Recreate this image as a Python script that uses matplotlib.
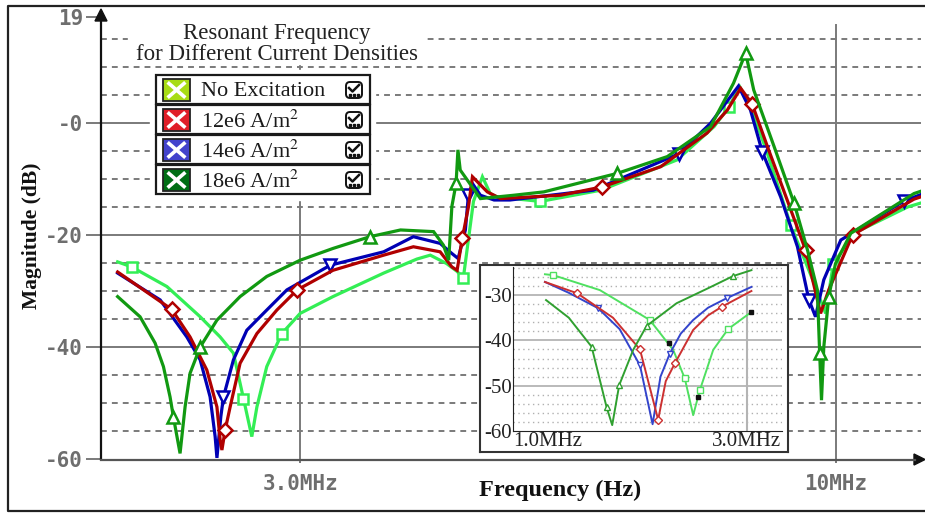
import numpy as np
import matplotlib.pyplot as plt
from matplotlib.patches import Rectangle, FancyBboxPatch, Polygon
from matplotlib.ticker import NullLocator

plt.rcParams['mathtext.fontset'] = 'stix'

# ---- main traces: frequency (MHz) / magnitude (dB) ----
f_none = [1.99, 2.054, 2.223, 2.396, 2.506, 2.582, 2.641, 2.691, 2.722, 2.783, 2.879, 3.00,
          3.23, 3.62, 3.90, 4.02, 4.17, 4.27, 4.33, 4.43, 4.52, 4.60, 4.67, 5.15, 5.90,
          7.00, 7.61, 7.87, 8.06, 8.30, 8.60, 9.04, 9.50, 9.78, 9.95, 10.42, 11.76, 12.11]
db_none = [-24.8, -25.7, -29.2, -34.6, -38.2, -41.1, -49.2, -56.0, -50.7, -43.5, -37.6, -34.0,
           -31.0, -26.8, -24.3, -23.6, -25.1, -26.5, -27.7, -14.0, -9.6, -12.6, -13.2, -14.0, -12.0,
           -6.6, -0.65, 2.9, 6.5, 2.0, -6.0, -18.2, -28.0, -34.0, -25.2, -19.7, -15.0, -14.3]
mk_none = [1, 6, 10, 18, 23, 27, 31, 34]

f_12 = [1.99, 2.248, 2.342, 2.432, 2.488, 2.506, 2.516, 2.534, 2.563, 2.621, 2.722, 2.847, 2.98,
        3.23, 3.62, 3.87, 4.11, 4.22, 4.27, 4.32, 4.38, 4.42, 4.57, 4.71, 5.39, 5.92,
        6.75, 7.49, 7.84, 8.08, 8.29, 8.58, 8.97, 9.35, 9.67, 9.85, 10.39, 11.93, 12.11]
db_12 = [-26.6, -33.3, -38.2, -44.1, -50.7, -56.6, -58.4, -54.9, -50.7, -42.9, -37.6, -33.4, -29.8,
         -26.3, -23.6, -22.1, -23.0, -25.7, -26.3, -20.6, -15.0, -9.6, -12.3, -13.5, -12.9, -11.4,
         -7.8, -1.8, 2.3, 6.2, 3.4, -4.2, -13.75, -22.7, -34.0, -29.8, -20.0, -13.6, -13.2]
mk_12 = [1, 7, 12, 19, 25, 30, 33, 36]

f_14 = [1.99, 2.19, 2.325, 2.396, 2.45, 2.478, 2.488, 2.51, 2.525, 2.582, 2.661, 2.783, 2.912,
        3.21, 3.62, 3.87, 4.11, 4.22, 4.28, 4.35, 4.38, 4.42, 4.50, 4.64, 4.81, 5.80,
        7.03, 7.55, 8.04, 8.26, 8.48, 8.84, 9.18, 9.42, 9.56, 9.74, 10.12, 11.67, 12.11]
db_14 = [-26.8, -31.6, -38.2, -42.3, -48.9, -56.0, -59.8, -52.4, -48.9, -42.3, -37.0, -33.4, -29.8,
         -25.4, -23.0, -20.3, -21.5, -23.3, -24.2, -19.1, -12.9, -10.8, -12.9, -13.75, -13.75, -12.0,
         -5.5, -0.05, 6.6, 2.3, -5.1, -13.2, -22.1, -31.6, -34.6, -28.0, -20.9, -13.9, -12.8]
mk_14 = [8, 13, 20, 26, 30, 33, 37]

f_18 = [1.99, 2.093, 2.165, 2.206, 2.239, 2.256, 2.29, 2.316, 2.342, 2.396, 2.488, 2.621, 2.783,
        3.00, 3.23, 3.51, 3.76, 4.05, 4.14, 4.19, 4.22, 4.26, 4.278, 4.30, 4.50, 4.85, 5.19,
        6.12, 6.85, 7.55, 7.95, 8.17, 8.32, 8.71, 9.11, 9.39, 9.60, 9.65, 9.69, 9.74, 9.85,
        10.00, 10.35, 11.93, 12.11]
db_18 = [-31.0, -34.6, -39.3, -43.5, -48.9, -52.5, -59.0, -50.7, -44.7, -40.0, -35.2, -31.0, -27.4,
         -24.5, -22.4, -20.3, -19.1, -19.4, -21.8, -24.5, -14.9, -10.8, -4.8, -8.4, -13.5, -12.9, -12.3,
         -9.0, -6.0, -0.65, 7.1, 12.5, 5.9, -4.2, -14.3, -22.7, -29.8, -41.1, -49.5, -40.0, -31.0,
         -25.1, -19.7, -12.6, -12.2]
mk_18 = [5, 9, 15, 21, 27, 31, 34, 37, 40]

# ---- zoomed traces (MHz / dB) ----
fi_none = [1.162, 1.208, 1.504, 1.902, 2.123, 2.242, 2.332, 2.406, 2.562, 2.748, 3.042]
dbi_none = [-25.4, -25.6, -28.9, -35.5, -42.1, -48.4, -56.5, -51.0, -42.1, -37.5, -34.0]
mki_none = [1, 3, 5, 7, 9]

fi_18 = [1.168, 1.30, 1.447, 1.552, 1.594, 1.647, 1.759, 1.874, 2.157, 2.50, 2.813, 3.066]
dbi_18 = [-31.1, -35.0, -41.4, -54.7, -58.7, -49.9, -42.1, -36.8, -31.8, -28.5, -25.8, -24.5]
mki_18 = [2, 3, 5, 7, 10]

fi_14 = [1.162, 1.30, 1.492, 1.65, 1.816, 1.927, 2.00, 2.090, 2.20, 2.332, 2.50, 2.728, 3.066]
dbi_14 = [-27.1, -29.5, -32.9, -37.5, -45.5, -58.5, -48.0, -42.9, -38.5, -35.5, -32.8, -30.7, -28.2]
mki_14 = [2, 4, 7, 11]

fi_12 = [1.162, 1.352, 1.60, 1.816, 1.978, 2.05, 2.139, 2.332, 2.50, 2.665, 3.066]
dbi_12 = [-27.1, -29.6, -35.0, -42.0, -57.5, -49.0, -45.1, -37.7, -34.5, -32.6, -29.1]
mki_12 = [1, 3, 4, 6, 9]

f_cursor = [2.08, 2.384, 3.056]
db_cursor = [-40.6, -52.5, -33.8]

legend_names = ['No Excitation', r'12e6 A/m$^2$', r'14e6 A/m$^2$', r'18e6 A/m$^2$']
legend_fill = ['#A8DC14', '#E01E28', '#4242CC', '#006E14']

W, H = 925, 514
fig = plt.figure(figsize=(W / 100, H / 100), dpi=100)


def box(x0, y0, x1, y1):
    return [x0 / W, 1 - y1 / H, (x1 - x0) / W, (y1 - y0) / H]


GRID = '#7a7a7a'
TICKFONT = dict(family='DejaVu Sans Mono', weight='bold', color='#6e6e6e', size=15)

# ---------------- main plot ----------------
ax = fig.add_axes(box(101, 16.6, 921, 459))
ax.set_xscale('log')
ax.set_xlim(1.917, 12.12)
ax.set_ylim(-60, 19)
for s in ax.spines.values():
    s.set_visible(False)

for v in [0, -20, -40]:
    ax.axhline(v, color=GRID, lw=1.4, zorder=1)
for v in [15, 10, 5, -5, -10, -15, -25, -30, -35, -45, -50, -55]:
    ax.axhline(v, color=GRID, lw=1.4, ls=(0, (3, 2.6)), zorder=1)
for v in [3, 10]:
    ax.plot([v, v], [-60.6, 17.5], color=GRID, lw=1.4, zorder=1, clip_on=False)

traces = [
    (f_none, db_none, mk_none, '#33EE55', 's', 7.5),
    (f_14, db_14, mk_14, '#0000B4', 'v', 8.5),
    (f_12, db_12, mk_12, '#B00000', 'D', 7),
    (f_18, db_18, mk_18, '#119911', '^', 8.5),
]
for f, db, mk, c, m, ms in traces:
    ax.plot(f, db, color=c, lw=2.3, zorder=3, solid_joinstyle='miter',
            marker=m, markevery=mk, ms=ms, mfc='white', mec=c, mew=1.8)

ax.set_yticks([19, 0, -20, -40, -60])
ax.set_yticklabels(['19', '-0', '-20', '-40', '-60'], **TICKFONT)
ax.set_xticks([3, 10])
ax.set_xticklabels(['3.0MHz', '10MHz'], **TICKFONT)
ax.xaxis.set_minor_locator(NullLocator())
ax.tick_params(axis='y', length=11, width=1.4, color=GRID, pad=2)
ax.tick_params(axis='x', length=3, width=1.4, color=GRID, pad=8)

ax.set_xlabel('Frequency (Hz)', family='Liberation Serif', weight='bold', size=17.5,
              color='#111111')
ax.xaxis.set_label_coords((560 - 101) / 820, -0.047)
ax.set_ylabel('Magnitude (dB)', family='Liberation Serif', weight='bold', size=15.5,
              color='#111111')
ax.yaxis.set_label_coords((42 - 101) / 820, (459 - 236) / 442.4)

# ---------------- zoomed inset ----------------
ins_frame = fig.add_axes(box(480, 265, 788, 452), zorder=3)
ins_frame.set_xticks([])
ins_frame.set_yticks([])
for s in ins_frame.spines.values():
    s.set_color('#333333')
    s.set_linewidth(1.5)

ai = fig.add_axes(box(513, 267, 782, 431), zorder=4)
ai.patch.set_alpha(0)
ai.set_xscale('log')
ai.set_xlim(1.0, 3.54)
ai.set_ylim(-60, -23.8)
for s in ['top', 'right']:
    ai.spines[s].set_visible(False)
ai.spines['left'].set_color('#222222')
ai.spines['bottom'].set_color('#222222')
for v in np.arange(-58, -23, 2):
    if v % 10 != 0:
        ai.axhline(v, color='#b0b0b0', lw=1.0, ls=(0, (1, 2.5)), zorder=1)
for v in [-30, -40, -50]:
    ai.axhline(v, color='#b4b4b4', lw=1.3, zorder=1)
ai.axvline(3.0, color='#b4b4b4', lw=1.5, zorder=1)

inset_traces = [
    (fi_none, dbi_none, mki_none, '#4FE060', 's'),
    (fi_14, dbi_14, mki_14, '#3344CC', 'v'),
    (fi_12, dbi_12, mki_12, '#CC3030', 'D'),
    (fi_18, dbi_18, mki_18, '#30A030', '^'),
]
for f, db, mk, c, m in inset_traces:
    ai.plot(f, db, color=c, lw=1.4, zorder=3, marker=m, markevery=mk,
            ms=4, mfc='white', mec=c, mew=1.0)
ai.plot(f_cursor, db_cursor, ls='none', marker='s', ms=3.5, color='#111111', zorder=4)

ai.set_yticks([-30, -40, -50, -60])
ai.set_yticklabels(['-30', '-40', '-50', '-60'], family='Liberation Serif', size=15,
                   color='#222222')
ai.set_xticks([1.0, 3.0])
ai.set_xticklabels(['1.0MHz', '3.0MHz'], family='Liberation Serif', size=15,
                   color='#222222')
ai.xaxis.set_minor_locator(NullLocator())
ai.tick_params(length=0, pad=1)
ai.get_xticklabels()[0].set_horizontalalignment('left')
ai.get_xticklabels()[0].set_x(0.985)

# ---------------- overlay: frame, arrows, title, legend ----------------
ov = fig.add_axes([0, 0, 1, 1], zorder=5)
ov.set_xlim(0, W)
ov.set_ylim(H, 0)
ov.axis('off')
ov.patch.set_alpha(0)

ov.plot([930, 8, 8, 930], [6, 6, 511, 511], color='#222222', lw=1.6)

# axis lines with arrow heads
ov.plot([101, 101], [459, 18], color='#111111', lw=1.6)
ov.add_patch(Polygon([[95, 21], [107, 21], [101, 9]], closed=True, color='#111111'))
ov.plot([101, 915], [459.5, 459.5], color='#555555', lw=1.6)
ov.add_patch(Polygon([[914, 454], [914, 465], [925, 459.5]], closed=True, color='#111111'))

# title
ov.add_patch(Rectangle((128, 22), 297, 42, color='white', zorder=2))
ov.text(277, 33, 'Resonant Frequency', ha='center', va='center', family='Liberation Serif',
        size=16.5, color='#222222', zorder=3)
ov.text(277, 55, 'for Different Current Densities', ha='center', va='center',
        family='Liberation Serif', size=16.5, color='#222222', zorder=3)

# legend
ov.add_patch(Rectangle((150, 70), 225, 130, color='white', zorder=2))
for i, (name, fc) in enumerate(zip(legend_names, legend_fill)):
    top = 75 + 30 * i
    ov.add_patch(Rectangle((156, top), 214, 29, fill=False, ec='#1a1a1a', lw=1.6, zorder=3))
    ov.add_patch(Rectangle((163, top + 4), 27, 22, fc=fc, ec='#222222', lw=1.3, zorder=3))
    ov.plot([169, 184], [top + 8.5, top + 21.5], color='white', lw=2.6, zorder=4)
    ov.plot([169, 184], [top + 21.5, top + 8.5], color='white', lw=2.6, zorder=4)
    ov.text(201, top + 17, name, ha='left', va='center', family='Liberation Serif',
            size=16, color='#1a1a1a', zorder=4)
    ov.add_patch(FancyBboxPatch((346, top + 7), 16, 16,
                                boxstyle='round,pad=0,rounding_size=4',
                                fill=False, ec='#111111', lw=1.4, zorder=4))
    ov.plot([349, 352.5, 359], [top + 13, top + 16.5, top + 10], color='#111111',
            lw=1.8, zorder=4)
    ov.plot([350, 354, 358], [top + 20, top + 20, top + 20], ls='none', marker='s',
            ms=1.8, color='#111111', zorder=4)

fig.savefig('out.png', dpi=100)
